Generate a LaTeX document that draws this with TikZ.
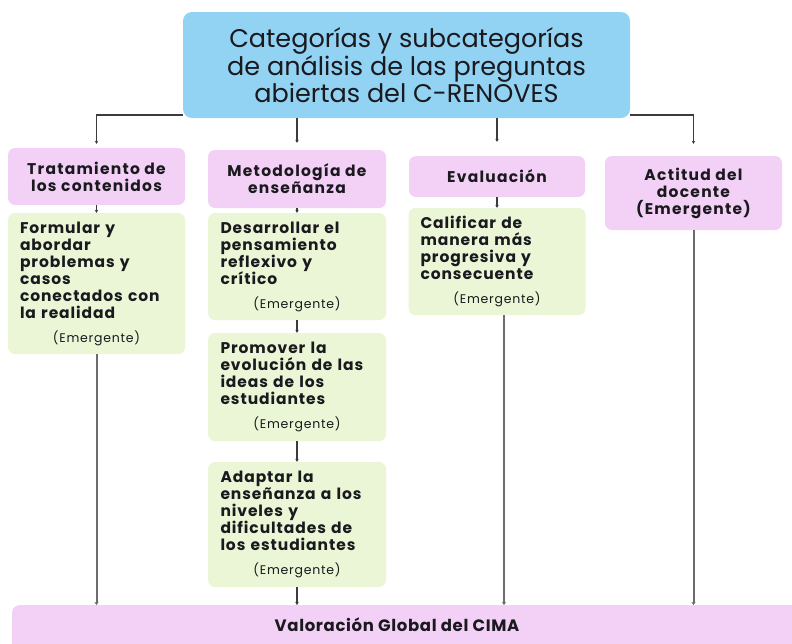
\documentclass[tikz,border=0pt]{standalone}
\usepackage{fontspec}
\setmainfont{Poppins}
\usetikzlibrary{arrows.meta}
\definecolor{topblue}{RGB}{146,210,243}
\definecolor{catpink}{RGB}{243,208,246}
\definecolor{subgreen}{RGB}{234,246,214}
\definecolor{linegray}{RGB}{60,60,60}
\definecolor{txt}{RGB}{25,25,30}
\newcommand{\catfont}{\fontsize{15.5}{17}\bfseries\selectfont\addfontfeature{LetterSpace=8}}
\newcommand{\subfont}{\fontsize{15.5}{17}\bfseries\selectfont\addfontfeature{LetterSpace=6}}
\tikzset{
  topbox/.style={fill=topblue, rounded corners=9pt, minimum width=447pt, minimum height=106pt, inner sep=0pt, align=center, font=\fontsize{25.5}{26.5}\selectfont, text=txt},
  catbox/.style={fill=catpink, rounded corners=7pt, minimum width=177pt, inner sep=0pt, align=center, font=\catfont, text=txt},
  subbox/.style={fill=subgreen, rounded corners=7pt, minimum width=177pt, inner xsep=12pt, inner ysep=0pt, text width=153pt, align=left, font=\subfont, text=txt},
  conn/.style={draw=linegray, line width=1.5pt, -{Stealth[length=3pt,width=3.5pt]}},
  longconn/.style={draw=gray!85!black, line width=2pt, -{Stealth[length=3pt,width=4pt]}}
}
\newcommand{\emerg}{\\[7pt]\makebox[153pt][c]{\fontsize{12.5}{14}\mdseries\selectfont\addfontfeature{LetterSpace=6}(Emergente)}}
\begin{document}
\begin{tikzpicture}[x=1pt,y=-1pt]
\useasboundingbox (0,0) rectangle (792,643);
\clip (0,0) rectangle (792,643);
\fill[white] (0,0) rectangle (792,643);

\node[topbox] (top) at (406.5,65) {Categorías y subcategorías\\de análisis de las preguntas\\abiertas del C-RENOVES};

\node[catbox, minimum height=57pt] (cat1) at (96.5,176.5) {Tratamiento de\\los contenidos};
\node[catbox, minimum height=58pt, minimum width=178pt] (cat2) at (297,179) {Metodología de\\enseñanza};
\node[catbox, minimum height=41pt, minimum width=176pt] (cat3) at (497,176.5) {Evaluación};
\node[catbox, minimum height=74pt] (cat4) at (693.5,193) {Actitud del\\docente\\(Emergente)};

\node[subbox, minimum height=141pt] (g1) at (96.5,283.5) {Formular y\\abordar\\problemas y\\casos\\conectados con\\la realidad\emerg};
\node[subbox, minimum height=107pt, minimum width=178pt] (g2) at (297,266.5) {Desarrollar el\\pensamiento\\reflexivo y\\crítico\emerg};
\node[subbox, minimum height=108pt, minimum width=178pt] (g3) at (297,387) {Promover la\\evolución de las\\ideas de los\\estudiantes\emerg};
\node[subbox, minimum height=125pt, minimum width=178pt] (g4) at (297,524.5) {Adaptar la\\enseñanza a los\\niveles y\\dificultades de\\los estudiantes\emerg};
\node[subbox, minimum height=107pt, minimum width=176pt] (g5) at (497,261.5) {Calificar de\\manera más\\progresiva y\\consecuente\emerg};

\node[fill=catpink, rounded corners=7pt, minimum width=800pt, minimum height=60pt, inner sep=0pt, anchor=north west] (bottom) at (12,605) {};
\node[font=\fontsize{16.5}{18}\bfseries\selectfont\addfontfeature{LetterSpace=4}, text=txt] (btext) at (397,625) {Valoración Global del CIMA};

% top connectors
\draw[conn, shorten >=4pt] ([yshift=3pt]top.south west) -| (cat1.north);
\draw[conn, shorten >=7pt] (top.south -| cat2.north) -- (cat2.north);
\draw[conn, shorten >=14pt] (top.south -| cat3.north) -- (cat3.north);
\draw[conn, shorten >=12pt] ([yshift=3pt]top.south east) -| (cat4.north);

% category to sub
\draw[conn] (cat1.south) -- (g1.north);
\draw[conn] (cat2.south) -- (g2.north);
\draw[conn] (cat3.south) -- (g5.north);
\draw[conn] (g2.south) -- (g3.north);
\draw[conn] (g3.south) -- (g4.north);

% to bottom
\draw[longconn] (g1.south) -- (g1.south |- bottom.north);
\draw[conn] (g4.south) -- (g4.south |- bottom.north);
\draw[longconn] ([xshift=7pt]g5.south) -- ([xshift=7pt]g5.south |- bottom.north);
\draw[longconn] (cat4.south) -- (cat4.south |- bottom.north);
\end{tikzpicture}
\end{document}
